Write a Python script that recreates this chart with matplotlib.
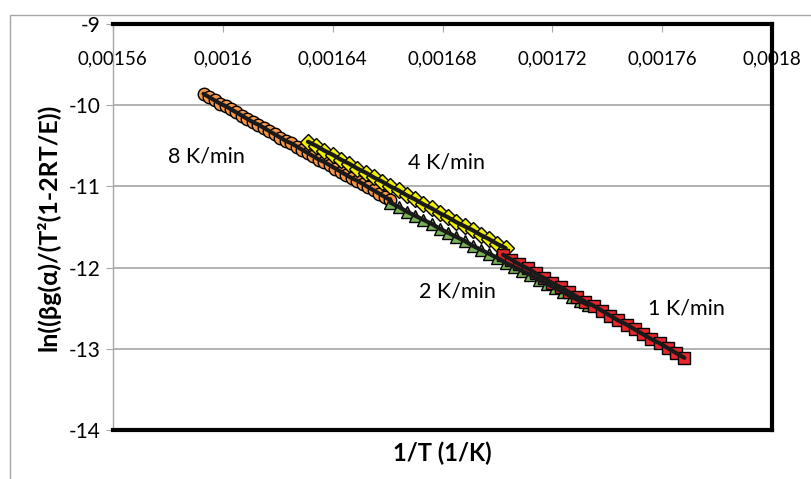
import matplotlib.pyplot as plt
from matplotlib.patches import Rectangle

# data (x in 1/K, y = ln(...))
x_8 = [0.001593, 0.001595, 0.001597, 0.001599, 0.001601, 0.001603, 0.001605,
       0.001607, 0.001609, 0.001611, 0.001613, 0.001615, 0.001617, 0.001619,
       0.001621, 0.001623, 0.001625, 0.001627, 0.001629, 0.001631, 0.001633,
       0.001635, 0.001637, 0.001639, 0.001641, 0.001643, 0.001645, 0.001647,
       0.001649, 0.001651, 0.001653, 0.001655, 0.001657, 0.001659, 0.001661]
y_8 = [-9.86, -9.90, -9.94, -9.98, -10.01, -10.05, -10.09, -10.13, -10.17,
       -10.21, -10.24, -10.28, -10.32, -10.36, -10.40, -10.44, -10.47, -10.51,
       -10.55, -10.59, -10.63, -10.67, -10.70, -10.74, -10.78, -10.82, -10.86,
       -10.90, -10.93, -10.97, -11.01, -11.05, -11.09, -11.13, -11.17]

x_4 = [0.001631, 0.001634, 0.001637, 0.001640, 0.001643, 0.001646, 0.001649,
       0.001652, 0.001655, 0.001658, 0.001661, 0.001664, 0.001667, 0.001670,
       0.001673, 0.001676, 0.001679, 0.001682, 0.001685, 0.001688, 0.001691,
       0.001694, 0.001697, 0.001700, 0.001703]
y_4 = [-10.45, -10.50, -10.56, -10.61, -10.67, -10.72, -10.78, -10.83, -10.89,
       -10.94, -11.00, -11.05, -11.11, -11.16, -11.22, -11.27, -11.33, -11.38,
       -11.44, -11.49, -11.54, -11.60, -11.65, -11.71, -11.76]

x_2 = [0.001661, 0.001664, 0.001667, 0.001670, 0.001673, 0.001676, 0.001679,
       0.001682, 0.001685, 0.001688, 0.001691, 0.001694, 0.001697, 0.001700,
       0.001703, 0.001706, 0.001709, 0.001712, 0.001715, 0.001718, 0.001721,
       0.001724, 0.001727, 0.001730, 0.001733]
y_2 = [-11.20, -11.25, -11.31, -11.36, -11.41, -11.46, -11.52, -11.57, -11.62,
       -11.67, -11.73, -11.78, -11.83, -11.88, -11.94, -11.99, -12.04, -12.09,
       -12.15, -12.20, -12.25, -12.30, -12.36, -12.41, -12.46]

x_1 = [0.001702, 0.001705, 0.001708, 0.001711, 0.001714, 0.001717, 0.001720,
       0.001723, 0.001726, 0.001729, 0.001732, 0.001735, 0.001738, 0.001741,
       0.001744, 0.001747, 0.001750, 0.001753, 0.001756, 0.001759, 0.001762,
       0.001765, 0.001768]
y_1 = [-11.84, -11.90, -11.96, -12.01, -12.07, -12.13, -12.19, -12.24, -12.30,
       -12.36, -12.42, -12.47, -12.53, -12.59, -12.65, -12.70, -12.76, -12.82,
       -12.88, -12.93, -12.99, -13.05, -13.11]

x_ticks = [0.00156, 0.0016, 0.00164, 0.00168, 0.00172, 0.00176, 0.0018]
x_ticklabels = ["0,00156", "0,0016", "0,00164", "0,00168", "0,00172", "0,00176", "0,0018"]
y_ticks = [-14, -13, -12, -11, -10, -9]

plt.rcParams['font.family'] = ['Lato', 'DejaVu Sans']
plt.rcParams['axes.unicode_minus'] = False

fig = plt.figure(figsize=(8.12, 4.79), dpi=100)
ax = fig.add_axes([0.139, 0.102, 0.812, 0.848])

# outer chart frame
fig.patches.append(Rectangle((10 / 812, -0.1), 1.2, 1.1 - 15 / 479, transform=fig.transFigure,
                             fill=False, edgecolor='#a6a6a6', lw=1))

for yv in [-13, -12, -11, -10]:
    ax.axhline(yv, color='#a6a6a6', lw=1.2, zorder=0)

series = [
    (x_8, y_8, 'o', 9, '#f79646'),
    (x_4, y_4, 'D', 8, '#f0f000'),
    (x_2, y_2, '^', 9, '#77b255'),
    (x_1, y_1, 's', 9, '#e8262b'),
]
for xs, ys, mk, ms, col in series:
    ax.plot(xs, ys, mk, ms=ms, mfc=col, mec='black', mew=1.0, zorder=3)
    # dense dark core where the overlapping marker edges pile up
    ax.plot(xs, ys, '-', color='#1a1a1a', lw=3, zorder=4, solid_capstyle='round')

ax.set_xlim(0.00156, 0.0018)
ax.set_ylim(-14, -9)
ax.set_xticks(x_ticks)
ax.set_xticklabels(x_ticklabels)
ax.set_yticks(y_ticks)
ax.tick_params(axis='x', top=True, bottom=False, labeltop=True, labelbottom=False,
               direction='in', length=6, color='#a6a6a6', labelsize=13.5, pad=-31)
ax.tick_params(axis='y', length=5, color='#a6a6a6', labelsize=15, pad=4)

ax.spines['left'].set_color('#a6a6a6')
ax.spines['left'].set_linewidth(1)
for s in ['top', 'right', 'bottom']:
    ax.spines[s].set_color('black')
    ax.spines[s].set_linewidth(3)

ax.text(0.001594, -10.63, '8 K/min', fontsize=15.5, ha='center', va='center')
ax.text(0.0016816, -10.71, '4 K/min', fontsize=15.5, ha='center', va='center')
ax.text(0.0016853, -12.29, '2 K/min', fontsize=15.5, ha='center', va='center')
ax.text(0.0017687, -12.50, '1 K/min', fontsize=15.5, ha='center', va='center')

ax.set_xlabel('1/T (1/K)', fontsize=17, fontweight='bold', labelpad=8)
ax.set_ylabel('ln((βg(α)/(T²(1-2RT/E))', fontsize=18, fontweight='bold', labelpad=6)

fig.savefig('out.png', dpi=100)
